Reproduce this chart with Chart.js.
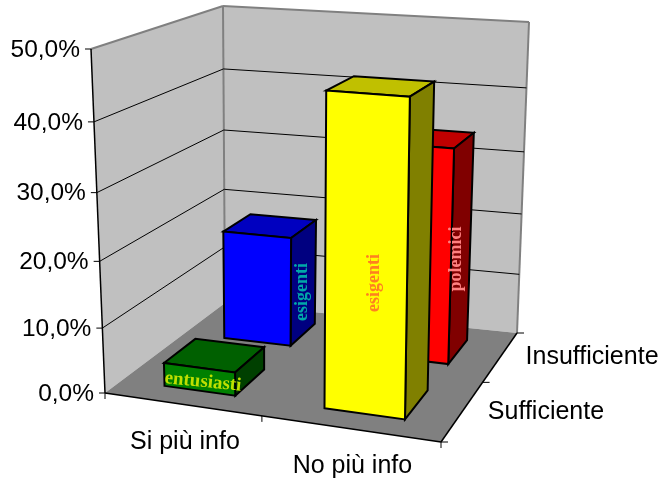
<!DOCTYPE html>
<html>
<head>
<meta charset="utf-8">
<style>html,body{margin:0;padding:0;background:#fff}canvas{display:block}</style>
<script src="https://cdn.jsdelivr.net/npm/chart.js@4"></script>
</head>
<body>
<canvas id="myChart" width="662" height="480"></canvas>
<script>
var categories = ['Si più info', 'No più info'];
var rows = ['Sufficiente', 'Insufficiente'];
var sufficiente = [3.6, 45.5];
var insufficiente = [17.7, 33.7];
var sufficienteNames = ['entusiasti', 'esigenti'];
var insufficienteNames = ['esigenti', 'polemici'];
var yTicks = [0, 10, 20, 30, 40, 50];

// corners of the 3d box on the page: front left, front right, back right, back left
var floorQuad = [[105, 393], [441, 442], [517, 333], [225, 303]];
var topQuad = [[91, 49], [447, 73], [529, 22], [223, 6]];
var stretch = 0.93;
var barW = 0.458, barD = 0.5, barShift = 0.0075;
var axisFont = '24.5px "Liberation Sans"';
var sideFont = '25px "Liberation Sans"';

function squareToQuad(q) {
    var dx1 = q[1][0] - q[2][0], dx2 = q[3][0] - q[2][0], sx = q[0][0] - q[1][0] + q[2][0] - q[3][0];
    var dy1 = q[1][1] - q[2][1], dy2 = q[3][1] - q[2][1], sy = q[0][1] - q[1][1] + q[2][1] - q[3][1];
    var den = dx1 * dy2 - dx2 * dy1;
    var g = (sx * dy2 - dx2 * sy) / den, h = (dx1 * sy - sx * dy1) / den;
    return function (u, d) {
        var w = g * u + h * d + 1;
        return [((q[1][0] - q[0][0] + g * q[1][0]) * u + (q[3][0] - q[0][0] + h * q[3][0]) * d + q[0][0]) / w,
                ((q[1][1] - q[0][1] + g * q[1][1]) * u + (q[3][1] - q[0][1] + h * q[3][1]) * d + q[0][1]) / w];
    };
}
var floorAt = squareToQuad(floorQuad), topAt = squareToQuad(topQuad);

function project(u, d, v) {
    var a = floorAt(u, d), b = topAt(u, d);
    var t = v * stretch / (1 + (stretch - 1) * v);
    return [a[0] + (b[0] - a[0]) * t, a[1] + (b[1] - a[1]) * t];
}

function decimal(scale, value) {
    return scale.getDecimalForPixel(scale.getPixelForValue(value));
}

function poly(ctx, pts, fill, stroke, lw) {
    ctx.beginPath();
    pts.forEach(function (p, i) { i ? ctx.lineTo(p[0], p[1]) : ctx.moveTo(p[0], p[1]); });
    ctx.closePath();
    if (fill) { ctx.fillStyle = fill; ctx.fill(); }
    if (stroke) { ctx.strokeStyle = stroke; ctx.lineWidth = lw; ctx.stroke(); }
}

function line(ctx, a, b, color, lw) {
    ctx.beginPath();
    ctx.moveTo(a[0], a[1]);
    ctx.lineTo(b[0], b[1]);
    ctx.strokeStyle = color;
    ctx.lineWidth = lw;
    ctx.stroke();
}

function label(ctx, text, x, y, font, color, angle, align) {
    ctx.save();
    ctx.translate(x, y);
    ctx.rotate(angle || 0);
    ctx.font = font;
    ctx.fillStyle = color;
    ctx.textAlign = align || 'center';
    ctx.textBaseline = 'middle';
    ctx.fillText(text, 0, 0);
    ctx.restore();
}

function drawBar(ctx, chart, rowIdx, catIdx, value, colors) {
    var uc = decimal(chart.scales.x, catIdx) + barShift, dc = decimal(chart.scales.depth, rowIdx);
    var hu = barW / categories.length / 2, hd = barD / rows.length / 2;
    var v = decimal(chart.scales.y, value);
    var l = uc - hu, r = uc + hu, f = dc - hd, b = dc + hd;
    var p = function (u, d, t) { return project(u, d, t); };
    poly(ctx, [p(l, f, v), p(r, f, v), p(r, b, v), p(l, b, v)], colors.top, '#000', 2);
    poly(ctx, [p(r, f, 0), p(r, b, 0), p(r, b, v), p(r, f, v)], colors.side, '#000', 2);
    poly(ctx, [p(l, f, 0), p(r, f, 0), p(r, f, v), p(l, f, v)], colors.front, '#000', 2);
}

var box3d = {
    id: 'box3d',
    beforeDatasetsDraw: function (chart) {
        var ctx = chart.ctx, yScale = chart.scales.y;
        var dark = '#808080';
        ctx.lineJoin = 'miter';

        // walls and floor
        poly(ctx, [project(0, 0, 0), project(0, 1, 0), project(0, 1, 1), project(0, 0, 1)], '#c0c0c0');
        poly(ctx, [project(0, 1, 0), project(1, 1, 0), project(1, 1, 1), project(0, 1, 1)], '#c0c0c0');
        poly(ctx, [project(0, 0, 0), project(1, 0, 0), project(1, 1, 0), project(0, 1, 0)], dark);
        line(ctx, project(0, 0, 1), project(0, 1, 1), dark, 2);
        line(ctx, project(0, 1, 1), project(1, 1, 1), dark, 2);
        line(ctx, project(1, 1, 1), project(1, 1, 0), dark, 2);
        line(ctx, project(0, 1, 1), project(0, 1, 0), dark, 2);

        // gridlines and value axis
        yScale.ticks.forEach(function (t) {
            var v = decimal(yScale, t.value);
            var a = project(0, 0, v), b = project(0, 1, v), c = project(1, 1, v);
            if (t.value > 0 && t.value < 50) {
                line(ctx, a, b, '#000', 1);
                line(ctx, b, c, '#000', 1);
            }
            line(ctx, [a[0] - 6, a[1]], a, '#000', 1);
            label(ctx, t.label, a[0] - 11, a[1] + 1, axisFont, '#000', 0, 'right');
        });
        line(ctx, project(0, 0, 0), project(0, 0, 1), '#000', 1.5);
        line(ctx, project(0, 0, 0), project(1, 0, 0), '#000', 1.5);
        line(ctx, project(1, 0, 0), project(1, 1, 0), '#000', 1.5);

        // category and depth ticks
        [0, 0.5, 1].forEach(function (u) {
            var a = project(u, 0, 0);
            line(ctx, a, [a[0], a[1] + 6], '#000', 1);
            var b = project(1, u, 0);
            line(ctx, b, [b[0] + 7, b[1]], '#000', 1);
        });
        categories.forEach(function (name, i) {
            var a = project(decimal(chart.scales.x, i), 0, 0);
            label(ctx, name, a[0] + 4, a[1] + 38, sideFont, '#000');
        });
        rows.forEach(function (name, i) {
            var a = project(1, decimal(chart.scales.depth, i), 0);
            label(ctx, name, a[0] + 25, a[1] + 1, sideFont, '#000', 0, 'left');
        });

        // bars, back row first
        drawBar(ctx, chart, 1, 0, insufficiente[0], { front: '#0000ff', top: '#0000c0', side: '#000080' });
        drawBar(ctx, chart, 1, 1, insufficiente[1], { front: '#ff0000', top: '#c00000', side: '#800000' });
        drawBar(ctx, chart, 0, 0, sufficiente[0], { front: '#008000', top: '#006000', side: '#004000' });
        drawBar(ctx, chart, 0, 1, sufficiente[1], { front: '#ffff00', top: '#c0c000', side: '#808000' });

        // names written on the bars
        var serif = 'bold 18px "Liberation Serif"';
        label(ctx, insufficienteNames[0], 302, 292, serif, '#00a8a8', -Math.PI / 2);
        label(ctx, insufficienteNames[1], 456, 259, serif, '#ff8080', -Math.PI / 2);
        label(ctx, sufficienteNames[1], 374, 283, serif, '#ff8020', -Math.PI / 2);
        label(ctx, sufficienteNames[0], 203, 382, 'bold 19px "Liberation Serif"', '#bfdf00', 0.1);
        return false;
    }
};

var ctx = document.getElementById('myChart').getContext('2d');
var chart = new Chart(ctx, {
    type: 'bar',
    data: {
        labels: categories,
        datasets: [
            { label: rows[0], data: sufficiente },
            { label: rows[1], data: insufficiente }
        ]
    },
    plugins: [box3d],
    options: {
        responsive: false,
        animation: false,
        plugins: { legend: { display: false }, tooltip: { enabled: false } },
        scales: {
            x: { display: false, offset: true },
            depth: { type: 'category', axis: 'x', labels: rows, offset: true, display: false },
            y: {
                display: false,
                min: 0,
                max: 50,
                afterBuildTicks: function (scale) { scale.ticks = yTicks.map(function (t) { return { value: t }; }); },
                ticks: { callback: function (v) { return v.toFixed(1).replace('.', ',') + '%'; } }
            }
        }
    }
});
</script>
</body>
</html>
